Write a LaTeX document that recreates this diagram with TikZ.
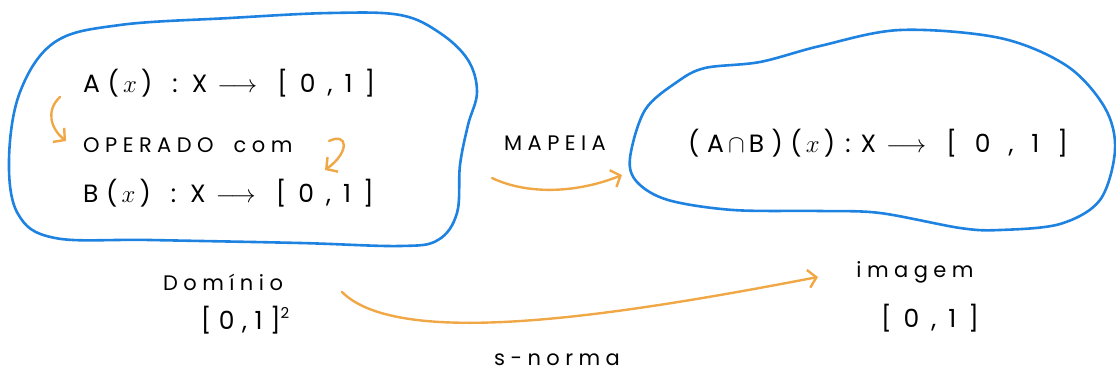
\documentclass[tikz,border=0pt]{standalone}
\usepackage{fontspec}
\setmainfont{Poppins}
\newfontfamily\hand[LetterSpace=30]{Poppins}
\newfontfamily\handmid[LetterSpace=48]{Poppins}
\newfontfamily\handwide[LetterSpace=72]{Poppins}
\newfontfamily\handsm[LetterSpace=26]{Poppins}
\usetikzlibrary{arrows.meta}
\definecolor{blobblue}{RGB}{30,130,225}
\definecolor{penorange}{RGB}{240,168,70}
\tikzset{
  blob/.style={draw=blobblue, line width=2.6pt, line join=round},
  txt/.style={font=\hand\fontsize{25}{28}\selectfont, inner sep=0pt, text=black},
  small/.style={font=\handsm\fontsize{21}{24}\selectfont, inner sep=0pt, text=black},
  pen/.style={draw=penorange, line width=2.4pt, line cap=round,
    -{Straight Barb[length=8pt,width=18pt,line width=2.4pt]}},
}
\newcommand{\arr}{\hspace{10pt}$\longrightarrow$\hspace{20pt}}
\newcommand{\mint}{{\handmid[0,1]}}
\newcommand{\wint}{{\handwide[0,1]}}
\begin{document}
\begin{tikzpicture}[x=1pt,y=-1pt]
\useasboundingbox (0,0) rectangle (1116,374);
% left blob
\draw[blob] plot[smooth cycle, tension=0.6] coordinates {
 (9,160) (20,92) (55,42) (120,25) (230,18) (330,13) (400,15) (440,33)
 (468,60) (477,92) (468,125) (460,165) (457,213) (438,240) (400,246) (300,243) (150,240) (55,238) (18,214)};
% right blob
\draw[blob] plot[smooth cycle, tension=0.55] coordinates {
 (630,158) (645,110) (677,82) (705,68) (760,62) (820,46) (900,30) (1000,38)
 (1067,66) (1105,108) (1115,150) (1100,200) (1060,224) (1000,230) (960,228)
 (880,213) (820,211) (733,210) (668,200) (637,182)};
% texts
\node[txt, anchor=west] (ax) at (83,83) {A(\,$x$\,)\hspace{20pt}:\hspace{14pt}X\arr\mint};
\node[small, anchor=west] (op) at (83,145) {OPERADO\hspace{20pt}com};
\node[txt, anchor=west] (bx) at (83,193) {B(\,$x$\,)\hspace{20pt}:\hspace{14pt}X\arr\mint};
\node[small] (map) at (555,143) {MAPEIA};
\node[txt, anchor=west] (ab) at (688,143) {(A$\,\cap\,$B)(\,$x$\,)\hspace{10pt}:\hspace{10pt}X\arr\wint};
\node[small] (dom) at (223,282) {Domínio};
\node[txt] (dint) at (245,320) {[0,1]\raisebox{11pt}{\fontsize{15}{16}\selectfont 2}};
\node[small] (img) at (915,272) {imagem};
\node[txt] (iint) at (930,318) {\mint};
\node[small] (sn) at (557,360) {s-norma};
% orange arrows
\coordinate (a1s) at (60,97);
\coordinate (a1e) at (66,141);
\draw[pen] (a1s) .. controls (46,110) and (50,128) .. (a1e);
\coordinate (a2s) at (329,141);
\coordinate (a2e) at (325,170);
\draw[pen] (a2s) .. controls (348,132) and (350,152) .. (a2e);
\coordinate (ms) at (492,178);
\coordinate (me) at (622,175);
\draw[pen] (ms) .. controls (530,196) and (580,192) .. (me);
\coordinate (ls) at (342,292);
\coordinate (le) at (818,277);
\draw[pen] (ls) .. controls (400,350) and (620,315) .. (le);
\end{tikzpicture}
\end{document}
